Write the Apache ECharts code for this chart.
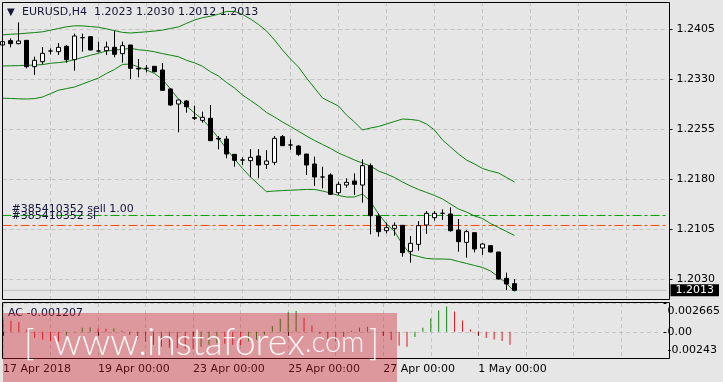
<!DOCTYPE html>
<html><head><meta charset="utf-8">
<script src="https://cdn.jsdelivr.net/npm/echarts@6/dist/echarts.min.js"></script>
<style>html,body{margin:0;padding:0;background:#e6e6e6;}#c{width:723px;height:382px;}</style>
</head><body><div id="c"></div><script>
// ---- data ----
const tradingDays = ['17 Apr','18 Apr','19 Apr','20 Apr','23 Apr','24 Apr','25 Apr','26 Apr','27 Apr','30 Apr','1 May','2 May','3 May','4 May'];
const barHours = ['00:00','04:00','08:00','12:00','16:00','20:00'];
const categories = [];
tradingDays.forEach(d => barHours.forEach(h => categories.push(d + ' ' + h)));

const open = [1.2381,1.23875,1.2383,1.2388,1.23485,1.2356,1.2372,1.2371,1.2379,1.2359,
1.2392,1.23935,1.2372,1.23725,1.23775,1.2368,1.2381,1.2346,1.2346,1.2349,
1.23435,1.2315,1.22925,1.2297,1.2272,1.2268,1.2271,1.2241,1.2240,1.2217,
1.22085,1.22075,1.22145,1.2202,1.2205,1.22435,1.2231,1.22295,1.22175,1.22025,
1.2183,1.2186,1.21595,1.2171,1.2177,1.2171,1.2200,1.21245,1.21025,1.2106,
1.21105,1.20715,1.2082,1.2111,1.2122,1.21285,1.21275,1.21035,1.2085,1.20995,
1.20765,1.2080,1.20705,1.2031,1.2023];
const high = [1.2389,1.2391,1.2415,1.2388,1.23635,1.2378,1.2376,1.2384,1.2381,1.2398,
1.2398,1.2394,1.2386,1.2386,1.24025,1.2386,1.2381,1.2360,1.2351,1.2349,
1.2354,1.2316,1.2299,1.22985,1.2290,1.2281,1.2291,1.22445,1.22445,1.2217,
1.22125,1.2225,1.2225,1.22235,1.22445,1.2246,1.22395,1.2231,1.22175,1.22135,
1.21985,1.21885,1.2176,1.2181,1.21885,1.22095,1.22035,1.21285,1.21145,1.2115,
1.21105,1.20945,1.2117,1.2132,1.2132,1.21345,1.21375,1.2120,1.21035,1.20995,
1.2084,1.2081,1.20705,1.20395,1.2030];
const low = [1.2379,1.23775,1.2382,1.2346,1.2336,1.2352,1.2367,1.2366,1.23545,1.23425,
1.2371,1.2373,1.2370,1.2366,1.23625,1.23545,1.2330,1.23325,1.2340,1.2340,
1.23135,1.22895,1.2250,1.22795,1.22685,1.22645,1.22375,1.22245,1.2211,1.21985,
1.2201,1.21825,1.2181,1.2195,1.2201,1.2230,1.2224,1.22145,1.2186,1.21695,
1.2166,1.2156,1.2156,1.2167,1.2156,1.21445,1.2097,1.20935,1.20985,1.2095,
1.20635,1.20545,1.20725,1.20975,1.21175,1.21185,1.2101,1.2071,1.2062,1.2070,
1.2066,1.2070,1.2029,1.20135,1.2012];
const close = [1.2386,1.2383,1.2387,1.23485,1.2358,1.23685,1.2372,1.23775,1.2359,1.23945,
1.2392,1.23735,1.2372,1.2378,1.2367,1.2380,1.2346,1.2345,1.2346,1.2341,
1.2313,1.2291,1.22985,1.22885,1.2271,1.22725,1.22375,1.2240,1.22175,1.2208,
1.22085,1.22125,1.2201,1.2207,1.2241,1.2230,1.2231,1.2217,1.2201,1.2183,
1.2183,1.2157,1.2172,1.2175,1.2172,1.2200,1.2125,1.2101,1.2107,1.21105,
1.20695,1.20835,1.2110,1.21285,1.21285,1.21285,1.21025,1.2086,1.2101,1.2075,
1.20825,1.20705,1.2030,1.20225,1.2013];

const bbUpper = [1.23963,1.23971,1.23978,1.23987,1.23996,1.24008,1.24032,1.24058,1.24083,1.24097,
1.24097,1.24086,1.24076,1.24052,1.24026,1.23999,1.23990,1.23999,1.24008,1.24019,
1.24034,1.24058,1.24082,1.24134,1.24185,1.24220,1.24242,1.24272,1.24313,1.24313,
1.24268,1.24200,1.24118,1.24020,1.23885,1.23735,1.23600,1.23480,1.23315,1.23165,
1.23015,1.22955,1.22895,1.22760,1.22655,1.22535,1.22565,1.22588,1.22625,1.22663,
1.22700,1.22693,1.22678,1.22625,1.22535,1.22385,1.22280,1.22175,1.22085,1.22025,
1.21958,1.21920,1.21890,1.21823,1.21755];
const bbMiddle = [1.23495,1.23498,1.23501,1.23506,1.23509,1.23516,1.23536,1.23546,1.23560,1.23591,
1.23623,1.23656,1.23686,1.23720,1.23735,1.23743,1.23762,1.23738,1.23728,1.23708,
1.23681,1.23657,1.23633,1.23581,1.23543,1.23491,1.23408,1.23345,1.23248,1.23165,
1.23060,1.22978,1.22895,1.22798,1.22730,1.22655,1.22588,1.22516,1.22445,1.22378,
1.22318,1.22258,1.22190,1.22138,1.22085,1.22040,1.21995,1.21920,1.21875,1.21823,
1.21755,1.21695,1.21643,1.21598,1.21553,1.21500,1.21425,1.21350,1.21305,1.21245,
1.21208,1.21133,1.21073,1.21013,1.20953];
const bbLower = [1.23012,1.23008,1.23003,1.23000,1.23006,1.23030,1.23080,1.23132,1.23156,1.23180,
1.23225,1.23270,1.23315,1.23383,1.23443,1.23518,1.23525,1.23480,1.23435,1.23383,
1.23293,1.23150,1.22997,1.22895,1.22790,1.22693,1.22562,1.22415,1.22250,1.22100,
1.21958,1.21830,1.21718,1.21610,1.21620,1.21626,1.21632,1.21637,1.21644,1.21643,
1.21620,1.21590,1.21553,1.21530,1.21530,1.21575,1.21463,1.21275,1.21125,1.21013,
1.20818,1.20668,1.20638,1.20608,1.20600,1.20600,1.20595,1.20563,1.20533,1.20503,
1.20473,1.20420,1.20330,1.20236,1.20110];

const acValues = [0.001083,0.001019,0.000898,0.000213,-0.000556,-0.000741,-0.000861,-0.000898,-0.000343,-0.000046,
0.000370,0.000398,0.000306,0.000278,0.000306,0.000093,-0.000306,-0.000648,-0.000926,-0.001204,
-0.001389,-0.001482,-0.001528,-0.001574,-0.001621,-0.001389,-0.001204,-0.001065,-0.001111,-0.001204,
-0.001250,-0.000880,-0.000741,-0.000278,0.000528,0.001204,0.001806,0.001917,0.001296,0.000583,
-0.000213,-0.000676,-0.000833,-0.000463,0.000093,0.000370,0.000463,0.000046,-0.000398,-0.000769,
-0.001296,-0.001389,-0.000491,0.000370,0.001232,0.001972,0.002343,0.001880,0.001046,0.000213,
-0.000278,-0.000583,-0.000713,-0.000861,-0.001207];

const priceTicks = [1.2030,1.2105,1.2180,1.2255,1.2330,1.2405];
const acTicks = [-0.00243,0,0.002665];
const sellPrice = 1.21253, slPrice = 1.21103;
const orderId = '#385410352';

// ---- chart ----
const F = 'DejaVu Sans';
const TXT = '#15153a';
const GRIDC = '#c4c4c4';
const BAND = '#0b840b';
const last = close.length - 1;
const candles = open.map((o,i) => [o, close[i], low[i], high[i]]);
const dayLine = (i) => i % 6 === 0;
const labelTick = (i) => i % 12 === 0 && i <= last;
const WM = 'rgba(255,255,255,0.9)';
const WF = 'Lato';
const xFirst = categories[0], xLast = categories[categories.length - 1];

// horizontal level: 2-point line series across the time axis; its label is carried by a markLine
function level(value, color, type, label) {
  return {type:'line',xAxisIndex:0,yAxisIndex:0,showSymbol:false,symbol:'none',silent:true,z:2,
    data:[[xFirst,value],[xLast,value]],
    color:color,
    lineStyle:{color:color,type:type,width:1,opacity:1},itemStyle:{color:color},
    markLine:{symbol:'none',silent:true,animation:false,precision:6,
      lineStyle:{color:'rgba(0,0,0,0)',width:0},label:label,data:[{yAxis:value}]}};
}

const chart = echarts.init(document.getElementById('c'), null, {renderer:'canvas'});
chart.setOption({
  animation:false,
  backgroundColor:'#e6e6e6',
  title:[
    {text:'{t|▼}EURUSD,H4  ' + [open[last],high[last],low[last],close[last]].map(v=>v.toFixed(4)).join(' '),
     left:7, top:7, padding:0,
     textStyle:{fontFamily:F,fontSize:11,fontWeight:'normal',color:TXT,
       rich:{t:{fontSize:10,fontFamily:F,color:TXT,width:15}}}},
    {text:'AC ' + acValues[last].toFixed(6), left:8, top:308, padding:0,
     textStyle:{fontFamily:F,fontSize:11,fontWeight:'normal',color:TXT}}
  ],
  grid:[
    {left:2.5,right:56.5,top:2,height:298},
    {left:2.5,right:56.5,top:303,height:55}
  ],
  xAxis:[
    {type:'category',gridIndex:0,data:categories,boundaryGap:false,
     axisLine:{show:false},axisTick:{show:false},axisLabel:{show:false},
     splitLine:{show:true,interval:(i)=>dayLine(i),lineStyle:{color:GRIDC,type:[4,3],width:1}}},
    {type:'category',gridIndex:1,data:categories,boundaryGap:false,
     axisLine:{show:false},
     axisTick:{show:true,interval:(i)=>labelTick(i),length:4,lineStyle:{color:'#000'}},
     axisLabel:{show:true,interval:(i)=>labelTick(i),align:'left',margin:6,color:'#000',
       fontFamily:F,fontSize:11,
       formatter:(v,i)=> i===0 ? v.replace(' 00:00',' 2018') : v},
     splitLine:{show:true,interval:(i)=>dayLine(i),lineStyle:{color:GRIDC,type:[4,3],width:1}}}
  ],
  yAxis:[
    {type:'value',gridIndex:0,position:'right',offset:3,min:1.19985,max:1.24455,
     axisLine:{show:false},
     axisTick:{show:true,length:3,customValues:priceTicks,lineStyle:{color:'#000'}},
     axisLabel:{customValues:priceTicks,formatter:(v)=>v.toFixed(4),margin:7,color:'#000',fontFamily:F,fontSize:11},
     splitLine:{show:true,lineStyle:{color:GRIDC,type:[4,3],width:1}}},
    {type:'value',gridIndex:1,position:'right',offset:3,min:-0.00243,max:0.002665,
     axisLine:{show:false},
     axisTick:{show:true,length:3,customValues:acTicks,lineStyle:{color:'#000'}},
     axisLabel:{customValues:acTicks,formatter:(v)=> v===0 ? '0.00' : String(v),margin:4,color:'#000',
       fontFamily:F,fontSize:11,lineHeight:16,verticalAlignMaxLabel:'top',verticalAlignMinLabel:'bottom'},
     splitLine:{show:true,lineStyle:{color:GRIDC,type:[4,3],width:1}}}
  ],
  series:[
    level(close[last],'#c0c0c0','solid',
       {show:true,position:'end',formatter:close[last].toFixed(4),backgroundColor:'#000',color:'#fff',
        padding:[1,5,0,5],distance:4,fontFamily:F,fontSize:11}),
    level(sellPrice,'#00a000',[9,3,3,3],
       {show:true,position:'insideStartTop',formatter:orderId+' sell 1.00',color:TXT,distance:[9,1],fontFamily:F,fontSize:11}),
    level(slPrice,'#ff4500',[9,3,3,3],
       {show:true,position:'insideStartTop',formatter:orderId+' sl',color:TXT,distance:[9,4],fontFamily:F,fontSize:11}),
    {type:'line',xAxisIndex:0,yAxisIndex:0,data:bbUpper,showSymbol:false,symbol:'none',
     lineStyle:{color:BAND,width:1},itemStyle:{color:BAND},z:3,silent:true},
    {type:'line',xAxisIndex:0,yAxisIndex:0,data:bbMiddle,showSymbol:false,symbol:'none',
     lineStyle:{color:BAND,width:1},itemStyle:{color:BAND},z:3,silent:true},
    {type:'line',xAxisIndex:0,yAxisIndex:0,data:bbLower,showSymbol:false,symbol:'none',
     lineStyle:{color:BAND,width:1},itemStyle:{color:BAND},z:3,silent:true},
    {type:'candlestick',xAxisIndex:0,yAxisIndex:0,data:candles,barWidth:4,z:4,
     itemStyle:{color:'#ffffff',color0:'#000000',borderColor:'#000000',borderColor0:'#000000',borderWidth:1}},
    {type:'bar',xAxisIndex:1,yAxisIndex:1,data:acValues,barWidth:1,
     itemStyle:{color:(p)=> (p.dataIndex===0 || acValues[p.dataIndex] > acValues[p.dataIndex-1]) ? '#0e8a0e' : '#e8141a'}}
  ],
  graphic:[
    {type:'rect',z:50,shape:{x:2.5,y:2.5,width:667,height:297},style:{fill:'none',stroke:'#000',lineWidth:1},silent:true},
    {type:'rect',z:50,shape:{x:2.5,y:302.5,width:667,height:56},style:{fill:'none',stroke:'#000',lineWidth:1},silent:true},
    {type:'rect',z:100,shape:{x:3,y:313,width:394,height:69},style:{fill:'rgba(205,35,45,0.40)'},silent:true},
    {type:'text',z:101,x:24,y:362,silent:true,
     style:{text:'{b|[}{w|www.instaforex}{c|.com}{e|]}',verticalAlign:'bottom',
       rich:{
         b:{fontSize:36,fontFamily:WF,fontWeight:300,fill:WM,width:29},
         w:{fontSize:37.5,fontFamily:WF,fontWeight:300,fill:WM},
         c:{fontSize:29,fontFamily:WF,fontWeight:300,fill:WM},
         e:{fontSize:36,fontFamily:WF,fontWeight:300,fill:WM,padding:[0,0,0,4]}
       }}}
  ]
});
</script></body></html>
